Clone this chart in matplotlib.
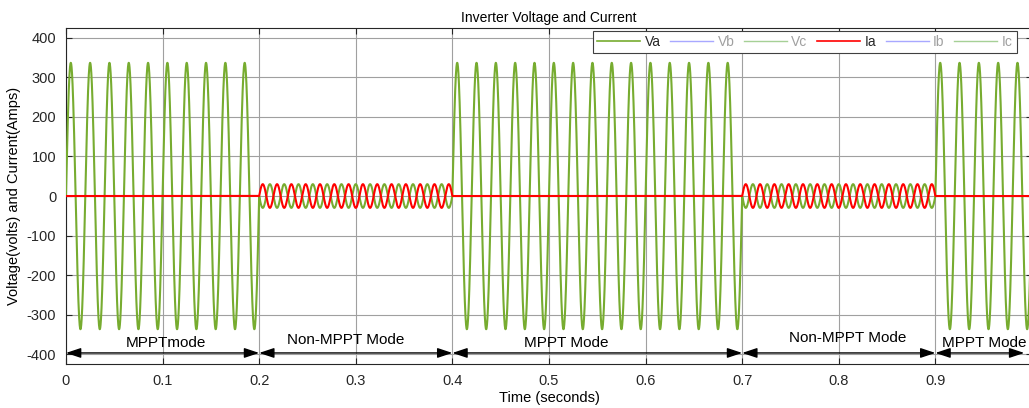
#!/usr/bin/env python3
"""
Inverter voltage and current - MPPT / non-MPPT switching (recreated plot)
"""

import numpy as np
import matplotlib
matplotlib.use("Agg")
import matplotlib.pyplot as plt
from matplotlib.lines import Line2D

# segment data: start/end time (s), mode, Va peak (V), Ia peak (A), frequency (Hz)
SEG_START = [0.0, 0.2, 0.4, 0.7, 0.9]
SEG_END = [0.2, 0.4, 0.7, 0.9, 1.0]
SEG_MODE = ["MPPT", "Non-MPPT", "MPPT", "Non-MPPT", "MPPT"]
VA_PEAK = [337, 30, 337, 30, 337]
IA_PEAK = [0, 30, 0, 30, 0]
SEG_FREQ = [50, 67.5, 50, 67.5, 50]

# mode labels under the curves
LABELS = ["MPPTmode", "Non-MPPT Mode", "MPPT Mode", "Non-MPPT Mode", "MPPT Mode"]
LABEL_X = [0.104, 0.290, 0.518, 0.809, 0.951]
LABEL_Y = [-372, -365, -372, -360, -372]
ARROW_X0 = [0.0, 0.2, 0.4, 0.7, 0.9]
ARROW_X1 = [0.2, 0.4, 0.7, 0.9, 0.992]
ARROW_Y = -397

LEGEND_NAMES = ["Va", "Vb", "Vc", "Ia", "Ib", "Ic"]

GREEN = "#77AC30"
RED = "#FF0000"


def build_waves():
    """Build the Va / Ia traces segment by segment"""
    t_all, va_all, ia_all = [], [], []
    for t0, t1, mode, va, ia, f in zip(SEG_START, SEG_END, SEG_MODE,
                                       VA_PEAK, IA_PEAK, SEG_FREQ):
        t = np.arange(t0, t1, 1e-5)
        if mode == "MPPT":
            va_seg = va * np.sin(2 * np.pi * f * t)
        else:
            va_seg = -va * np.sin(2 * np.pi * f * (t - t0))
        ia_seg = ia * np.sin(2 * np.pi * f * (t - t0))
        t_all.append(t)
        va_all.append(va_seg)
        ia_all.append(ia_seg)
    return np.concatenate(t_all), np.concatenate(va_all), np.concatenate(ia_all)


def main():
    plt.rcParams['font.family'] = ['Liberation Sans', 'DejaVu Sans']
    plt.rcParams['axes.unicode_minus'] = False

    fig = plt.figure(figsize=(10.29, 4.08), dpi=100)
    ax = fig.add_axes([0.0641, 0.1078, 0.9388, 0.8235])

    t, va, ia = build_waves()
    ax.plot(t, va, color=GREEN, lw=1.5, zorder=3)
    ax.plot(t, ia, color=RED, lw=1.5, zorder=4)

    ax.set_xlim(0, 1)
    ax.set_ylim(-425, 425)
    ax.set_xticks(np.arange(0, 1.01, 0.1))
    ax.set_xticklabels(["0", "0.1", "0.2", "0.3", "0.4", "0.5",
                        "0.6", "0.7", "0.8", "0.9", "1"])
    ax.set_yticks(np.arange(-400, 401, 100))
    ax.tick_params(direction='in', top=True, right=True, labelsize=10.5,
                   colors='#262626', length=4, pad=7)
    ax.grid(True, color='#a0a0a0', lw=0.8)
    ax.set_axisbelow(True)
    for s in ax.spines.values():
        s.set_color('#262626')
        s.set_linewidth(0.8)

    ax.set_title("Inverter Voltage and Current", fontsize=10, pad=4)
    ax.set_xlabel("Time (seconds)", fontsize=10.5, labelpad=2)
    ax.set_ylabel("Voltage(volts) and Current(Amps)", fontsize=10.5, labelpad=4)

    # double arrows + mode text
    for x0, x1 in zip(ARROW_X0, ARROW_X1):
        ax.annotate("", xy=(x1, ARROW_Y), xytext=(x0, ARROW_Y),
                    arrowprops=dict(arrowstyle='<|-|>,head_length=0.9,head_width=0.3',
                                    color='black', lw=1, shrinkA=0, shrinkB=0),
                    zorder=6)
    for lbl, x, y in zip(LABELS, LABEL_X, LABEL_Y):
        ax.text(x, y, lbl, ha='center', va='center', fontsize=11, zorder=6)

    # legend: only Va and Ia are shown, the rest greyed out
    colors = [GREEN, "#a8a8ff", "#a6d096", RED, "#a8a8ff", "#a6d096"]
    handles = [Line2D([0], [0], color=c, lw=1.2 if i in (0, 3) else 1.0)
               for i, c in enumerate(colors)]
    leg = ax.legend(handles, LEGEND_NAMES, ncol=6, loc='upper right',
                    bbox_to_anchor=(0.984, 0.992), borderaxespad=0,
                    fontsize=10, handlelength=3.1, handletextpad=0.3,
                    columnspacing=0.7, fancybox=False, framealpha=1,
                    edgecolor='#404040', borderpad=0.3)
    leg.get_frame().set_linewidth(0.8)
    for i, txt in enumerate(leg.get_texts()):
        txt.set_color('#262626' if i in (0, 3) else '#a0a0a0')
    leg.set_zorder(10)

    fig.savefig("out.png", dpi=100)


if __name__ == "__main__":
    main()
